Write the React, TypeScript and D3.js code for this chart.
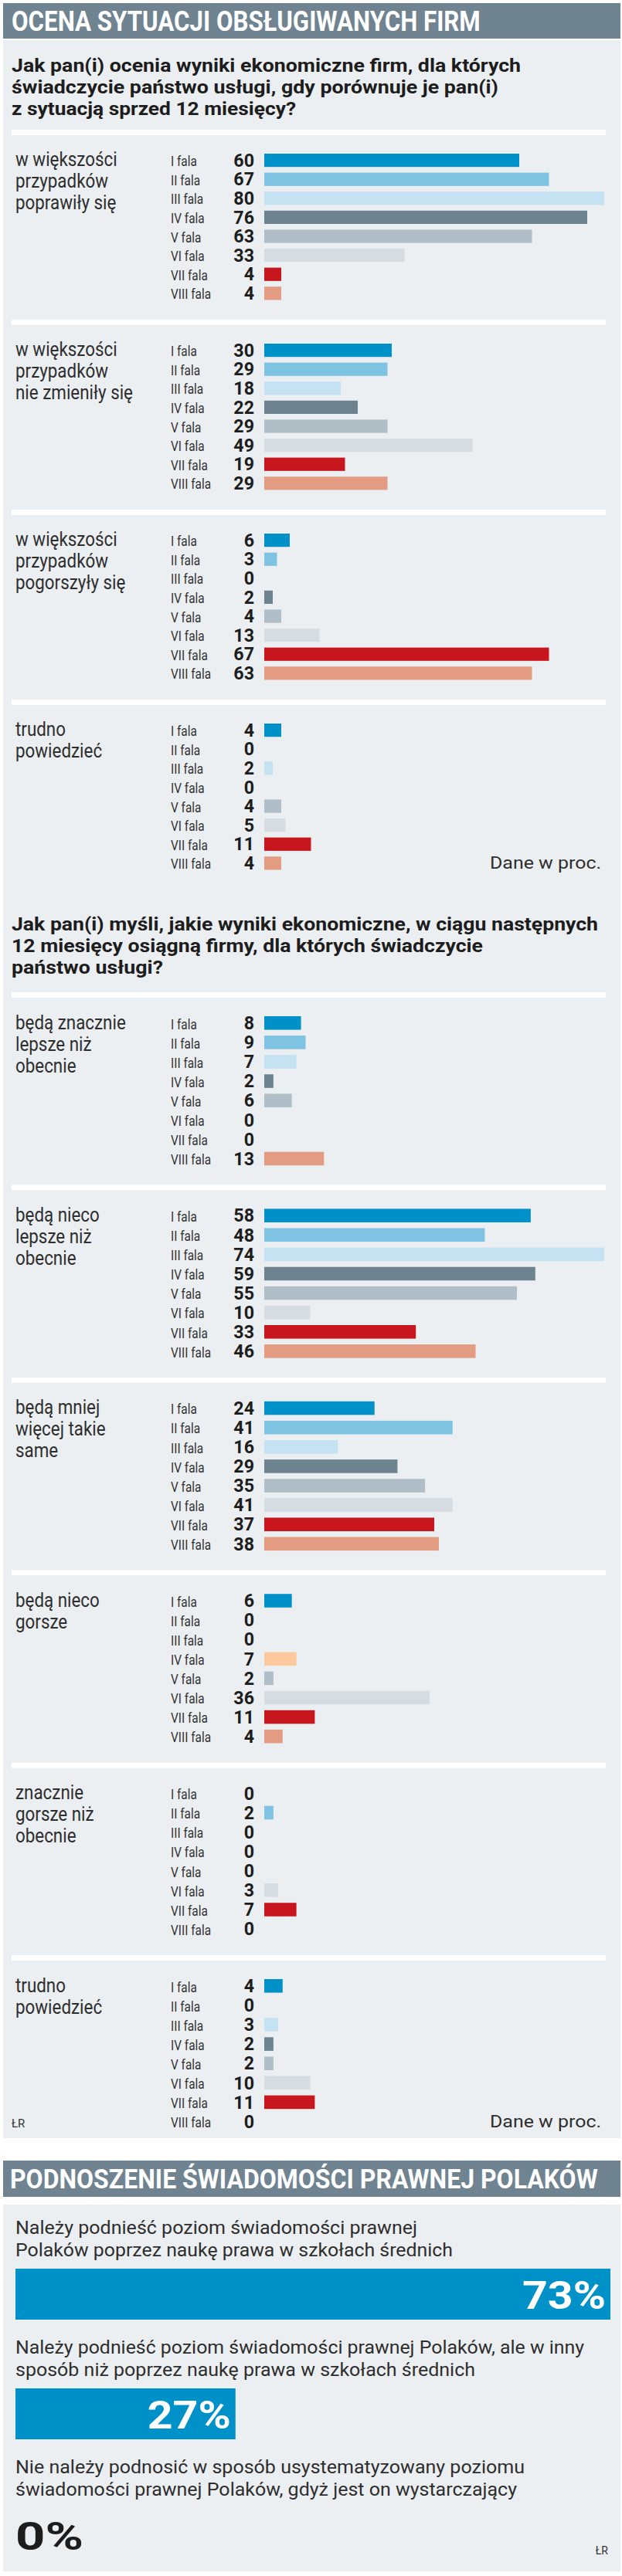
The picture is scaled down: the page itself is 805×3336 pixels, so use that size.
import * as d3 from "d3";

const WAVES = ["I fala", "II fala", "III fala", "IV fala", "V fala", "VI fala", "VII fala", "VIII fala"];
const WAVE_COLORS = ["#0191c9", "#7fc3e2", "#c4e2f2", "#6e8390", "#b0bec8", "#d5dce2", "#c8161e", "#e39b82"];

const TITLE_1 = "OCENA SYTUACJI OBSŁUGIWANYCH FIRM";
const TITLE_2 = "PODNOSZENIE ŚWIADOMOŚCI PRAWNEJ POLAKÓW";

const Q1_LINES = [
  "Jak pan(i) ocenia wyniki ekonomiczne firm, dla których",
  "świadczycie państwo usługi, gdy porównuje je pan(i)",
  "z sytuacją sprzed 12 miesięcy?",
];
const Q1_CATEGORIES = [
  ["w większości", "przypadków", "poprawiły się"],
  ["w większości", "przypadków", "nie zmieniły się"],
  ["w większości", "przypadków", "pogorszyły się"],
  ["trudno", "powiedzieć"],
];
const Q1_VALUES = [
  [60, 67, 80, 76, 63, 33, 4, 4],
  [30, 29, 18, 22, 29, 49, 19, 29],
  [6, 3, 0, 2, 4, 13, 67, 63],
  [4, 0, 2, 0, 4, 5, 11, 4],
];

const Q2_LINES = [
  "Jak pan(i) myśli, jakie wyniki ekonomiczne, w ciągu następnych",
  "12 miesięcy osiągną firmy, dla których świadczycie",
  "państwo usługi?",
];
const Q2_CATEGORIES = [
  ["będą znacznie", "lepsze niż", "obecnie"],
  ["będą nieco", "lepsze niż", "obecnie"],
  ["będą mniej", "więcej takie", "same"],
  ["będą nieco", "gorsze"],
  ["znacznie", "gorsze niż", "obecnie"],
  ["trudno", "powiedzieć"],
];
const Q2_VALUES = [
  [8, 9, 7, 2, 6, 0, 0, 13],
  [58, 48, 74, 59, 55, 10, 33, 46],
  [24, 41, 16, 29, 35, 41, 37, 38],
  [6, 0, 0, 7, 2, 36, 11, 4],
  [0, 2, 0, 0, 0, 3, 7, 0],
  [4, 0, 3, 2, 2, 10, 11, 0],
];
// the source paints this one bar peach instead of the wave colour
const Q2_COLOR_OVERRIDES = [{ group: 3, wave: 3, color: "#fdc99c" }];

const LAW_LABELS = [
  ["Należy podnieść poziom świadomości prawnej", "Polaków poprzez naukę prawa w szkołach średnich"],
  ["Należy podnieść poziom świadomości prawnej Polaków, ale w inny", "sposób niż poprzez naukę prawa w szkołach średnich"],
  ["Nie należy podnosić w sposób usystematyzowany poziomu", "świadomości prawnej Polaków, gdyż jest on wystarczający"],
];
const LAW_VALUES = [73, 27, 0];

// measured line widths (layout)
const Q1_WIDTHS = [659, 630, 368];
const Q2_WIDTHS = [759, 610, 196];
const LAW_WIDTHS = [[520, 566], [736, 595], [659, 649]];

const FONT = "Roboto, 'Liberation Sans', Arial, sans-serif";
const PANEL = "#eceff2";
const HEAD = "#6f8391";
const INK = "#1d1d1d";

const W = 805;
const H = 3336;
const BAR_X = 342;
const BAR_MAX = 440;

let ctx: CanvasRenderingContext2D | null = null;
function measure(text: string, size: number, weight: number) {
  if (!ctx) ctx = document.createElement("canvas").getContext("2d");
  if (!ctx) return text.length * size * 0.5;
  ctx.font = `${weight} ${size}px ${FONT}`;
  return ctx.measureText(text).width;
}

// condensed text: squeeze the natural width by sx
function CText({
  text,
  x,
  y,
  size,
  weight = 400,
  sx = 0.87,
  anchor = "start",
  fill = INK,
}: {
  text: string;
  x: number;
  y: number;
  size: number;
  weight?: number;
  sx?: number;
  anchor?: "start" | "end";
  fill?: string;
}) {
  return (
    <text
      x={x}
      y={y}
      fontSize={size}
      fontWeight={weight}
      textAnchor={anchor}
      fill={fill}
      fontFamily={FONT}
      textLength={measure(text, size, weight) * sx}
      lengthAdjust="spacingAndGlyphs"
    >
      {text}
    </text>
  );
}

// heading squeezed with a transform so its box really is the drawn width
function Heading({ text, x, y, width }: { text: string; x: number; y: number; width: number }) {
  const k = width / measure(text, 36, 700);
  return (
    <text
      transform={`translate(${x},${y}) scale(${k},1)`}
      fontSize={36}
      fontWeight={700}
      fill="#fff"
      fontFamily={FONT}
    >
      {text}
    </text>
  );
}

function Group({
  labels,
  values,
  sepY,
  pitch,
  xScale,
  colorFor,
}: {
  labels: string[];
  values: number[];
  sepY: number;
  pitch: number;
  xScale: d3.ScaleLinear<number, number>;
  colorFor: (i: number) => string;
}) {
  const first = sepY + 31;
  const y = d3
    .scaleBand<string>()
    .domain(WAVES)
    .range([first - pitch * 0.15, first - pitch * 0.15 + pitch * WAVES.length])
    .paddingInner(0.3)
    .paddingOuter(0.15);
  const bw = y.bandwidth();
  return (
    <g>
      <rect x={15} y={sepY} width={769} height={7} fill="#fff" />
      {labels.map((l, i) => (
        <CText key={i} text={l} x={20} y={first + bw - 1 + i * 28} sx={0.86} size={26} fill="#2e2e2e" />
      ))}
      {WAVES.map((w, i) => {
        const top = y(w)!;
        return (
          <g key={w}>
            <CText text={w} x={221} y={top + bw - 1} sx={0.88} size={17.5} fill="#333" />
            <CText
              text={String(values[i])}
              x={329}
              y={top + bw - 0.5}
              sx={0.97}
              size={24}
              weight={700}
              anchor="end"
            />
            {values[i] > 0 && (
              <rect x={BAR_X} y={top} width={xScale(values[i])} height={bw} fill={colorFor(i)} />
            )}
          </g>
        );
      })}
    </g>
  );
}

function QuestionText({ lines, widths, y0 }: { lines: string[]; widths: number[]; y0: number }) {
  return (
    <g>
      {lines.map((l, i) => (
        <text
          key={i}
          x={15}
          y={y0 + i * 28}
          fontSize={24}
          fontWeight={700}
          fill={INK}
          fontFamily={FONT}
          textLength={widths[i]}
          lengthAdjust="spacingAndGlyphs"
        >
          {l}
        </text>
      ))}
    </g>
  );
}

export default function App() {
  const x1 = d3.scaleLinear().domain([0, d3.max(Q1_VALUES.flat()) as number]).range([0, BAR_MAX]);
  const x2 = d3.scaleLinear().domain([0, d3.max(Q2_VALUES.flat()) as number]).range([0, BAR_MAX]);
  const xLaw = d3.scaleLinear().domain([0, d3.max(LAW_VALUES) as number]).range([0, 770]);

  const p1 = 24.6;
  const p2 = 25.1;
  const sep1 = Q1_CATEGORIES.map((_, i) => 168 + i * 246);
  const sep2 = Q2_CATEGORIES.map((_, i) => 1285 + i * 249.4);
  const lastRowBase = (sep: number, pitch: number) => sep + 31 + 7 * pitch + pitch * 0.7 - 1;

  const lawTop = 2893;
  const lawStep = 155;

  return (
    <svg
      width={W}
      height={H}
      style={{ position: "absolute", left: 0, top: 0, display: "block", background: "#fff" }}
    >
      {/* section 1 */}
      <rect x={4} y={4} width={799} height={46} fill={HEAD} />
      <Heading text={TITLE_1} x={15} y={40} width={607} />
      <rect x={4} y={52} width={799} height={2717} fill={PANEL} />

      <QuestionText lines={Q1_LINES} widths={Q1_WIDTHS} y0={93} />
      {Q1_CATEGORIES.map((c, gi) => (
        <Group
          key={gi}
          labels={c}
          values={Q1_VALUES[gi]}
          sepY={sep1[gi]}
          pitch={p1}
          xScale={x1}
          colorFor={(i) => WAVE_COLORS[i]}
        />
      ))}
      <text
        x={778}
        y={lastRowBase(sep1[sep1.length - 1], p1)}
        fontSize={22}
        textAnchor="end"
        fill="#2e2e2e"
        fontFamily={FONT}
        textLength={144}
        lengthAdjust="spacingAndGlyphs"
      >
        Dane w proc.
      </text>

      <QuestionText lines={Q2_LINES} widths={Q2_WIDTHS} y0={1205} />
      {Q2_CATEGORIES.map((c, gi) => (
        <Group
          key={gi}
          labels={c}
          values={Q2_VALUES[gi]}
          sepY={sep2[gi]}
          pitch={p2}
          xScale={x2}
          colorFor={(i) => {
            const o = Q2_COLOR_OVERRIDES.find((d) => d.group === gi && d.wave === i);
            return o ? o.color : WAVE_COLORS[i];
          }}
        />
      ))}
      <text
        x={778}
        y={lastRowBase(sep2[sep2.length - 1], p2)}
        fontSize={22}
        textAnchor="end"
        fill="#2e2e2e"
        fontFamily={FONT}
        textLength={144}
        lengthAdjust="spacingAndGlyphs"
      >
        Dane w proc.
      </text>
      <text x={15} y={lastRowBase(sep2[sep2.length - 1], p2)} fontSize={15} fill="#333" fontFamily={FONT}>
        ŁR
      </text>

      {/* section 2 */}
      <rect x={4} y={2798} width={799} height={47} fill={HEAD} />
      <Heading text={TITLE_2} x={13} y={2834} width={761} />
      <rect x={4} y={2855} width={799} height={475} fill={PANEL} />

      {LAW_LABELS.map((lines, i) => {
        const t = lawTop + i * lawStep;
        const barTop = t + 45;
        const v = LAW_VALUES[i];
        const w = xLaw(v);
        const label = `${v}%`;
        return (
          <g key={i}>
            {lines.map((l, j) => (
              <text
                key={j}
                x={20}
                y={t + j * 29}
                fontSize={24}
                fill="#2e2e2e"
                fontFamily={FONT}
                textLength={LAW_WIDTHS[i][j]}
                lengthAdjust="spacingAndGlyphs"
              >
                {l}
              </text>
            ))}
            {v > 0 && <rect x={20} y={barTop} width={w} height={66} fill="#0191c9" />}
            <text
              x={v > 0 ? 20 + w - 6 : 20}
              y={barTop + (v > 0 ? 52 : 54)}
              fontSize={50}
              fontWeight={700}
              textAnchor={v > 0 ? "end" : "start"}
              fill={v > 0 ? "#fff" : INK}
              fontFamily={FONT}
              textLength={68 + 20 * String(v).length}
              lengthAdjust="spacingAndGlyphs"
            >
              {label}
            </text>
          </g>
        );
      })}
      <text x={787} y={3308} fontSize={14} textAnchor="end" fill="#333" fontFamily={FONT}>
        ŁR
      </text>
    </svg>
  );
}
